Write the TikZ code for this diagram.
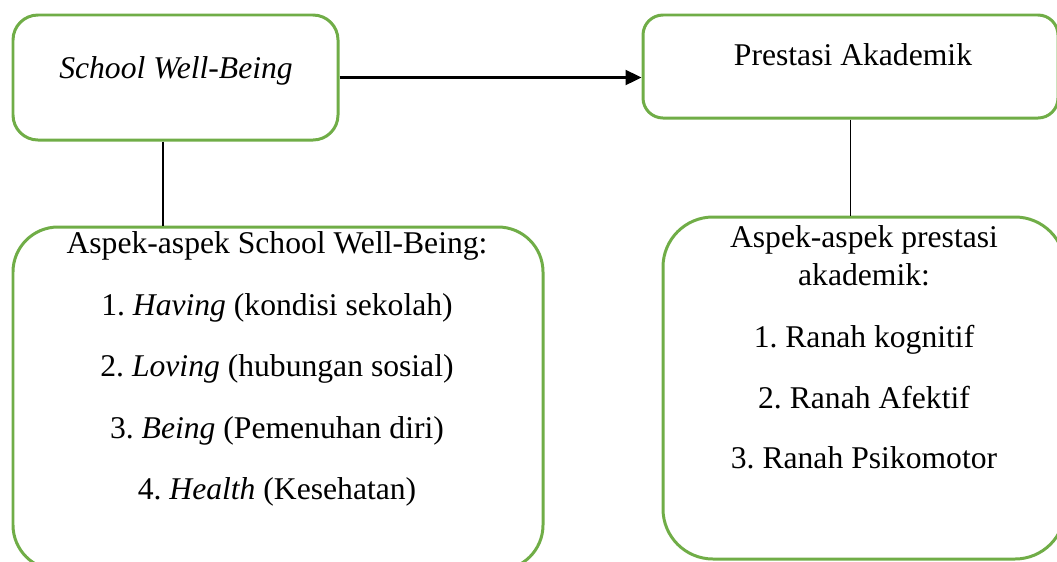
\documentclass[tikz,border=0pt]{standalone}
\usepackage{fontspec}
\setmainfont{Liberation Serif}
\frenchspacing
\usetikzlibrary{arrows.meta}
\definecolor{boxgreen}{HTML}{70AD47}
\begin{document}
\begin{tikzpicture}[box_node/.style={draw=boxgreen,line width=1.7pt,rounded corners=#1,inner sep=0pt},box_node/.default=0.5cm,text_node/.style={inner sep=0pt,align=center,font=\fontsize{18}{21.6}\selectfont}]
		
		\clip (0,0) rectangle (21.14,-11.22);
		
		\node[box_node=0.5cm,minimum width=6.5cm,minimum height=2.5cm] (swb) at (3.51,-1.55) {};
		\node[box_node=0.4cm,minimum width=8.3cm,minimum height=2.06cm] (pa) at (17.01,-1.33) {};
		\node[box_node=0.9cm,minimum width=10.6cm,minimum height=6.86cm] (aspek_swb) at (5.56,-7.97) {};
		\node[box_node=1cm,minimum width=8.04cm,minimum height=6.84cm] (aspek_pa) at (17.28,-7.76) {};
		
		\node[text_node,anchor=base,font=\fontsize{18}{21.6}\selectfont\itshape] (swb_text) at (3.52,-1.56) {School Well-Being};
		\node[text_node,anchor=base] (pa_text) at (17.06,-1.30) {Prestasi Akademik};
		\node[text_node,anchor=north] (aspek_swb_text) at (5.54,-4.63) {Aspek-aspek School Well-Being:\\[13.4pt]
			1. \emph{Having} (kondisi sekolah)\\[13.4pt]
			2. \emph{Loving} (hubungan sosial)\\[13.4pt]
			3. \emph{Being} (Pemenuhan diri)\\[13.4pt]
			4. \emph{Health} (Kesehatan)};
		\node[text_node,anchor=north] (aspek_pa_text) at (17.28,-4.51) {Aspek-aspek prestasi\\
			akademik:\\[13.6pt]
			1. Ranah kognitif\\[13pt]
			2. Ranah Afektif\\[12.6pt]
			3. Ranah Psikomotor};
		
		\draw[-{Triangle[length=0.32cm,width=0.3cm]},line width=1.3pt] (swb.east) -- (swb.east -| pa.west);
		\draw[line width=0.6pt] ([xshift=-0.25cm]swb.south) -- ([xshift=-0.25cm]swb.south |- aspek_swb.north);
		\draw[line width=0.6pt] (pa.south) -- (pa.south |- aspek_pa.north);
		\end{tikzpicture}
\end{document}
